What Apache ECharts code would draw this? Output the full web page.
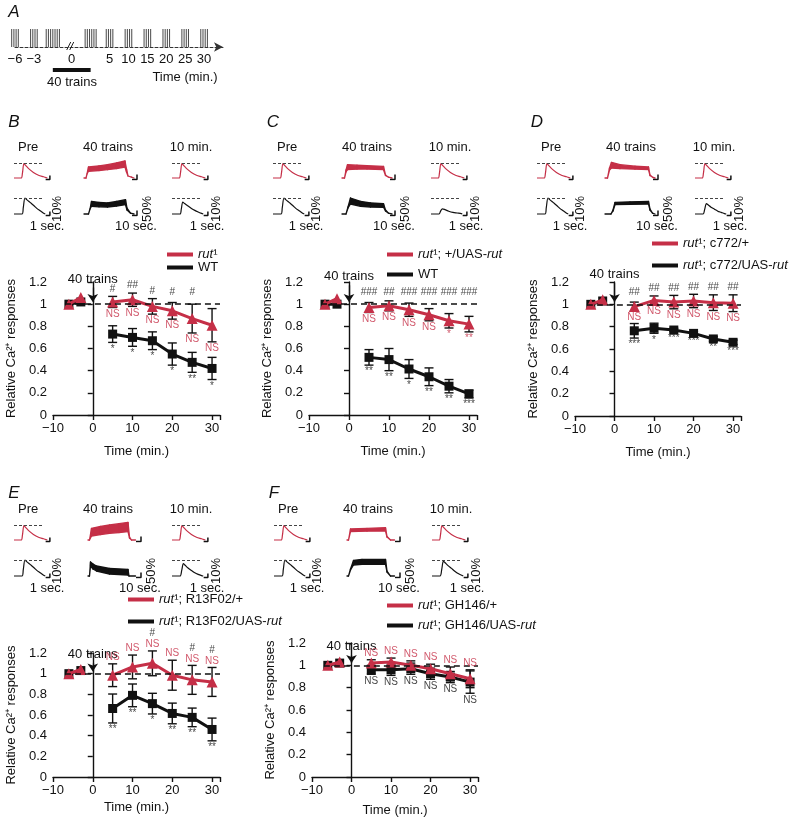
<!DOCTYPE html>
<html><head><meta charset="utf-8">
<script src="https://cdn.jsdelivr.net/npm/echarts@6/dist/echarts.min.js"></script>
<style>html,body{margin:0;padding:0;background:#fff}#c{width:790px;height:818px}</style>
</head><body><div id="c"></div>
<script>
// ================= DATA =================
// Panel A timeline
const timelineLabels = ['−6','−3','','0','','5','10','15','20','25','30',''];
const spikeCounts    = [4, 4, 7, 0, 6, 4, 4, 4, 4, 4, 4, 0];
const spikeKind      = ['test','test','train','break','train','test','test','test','test','test','test','end'];

// Time points (min.)
const times = [-6, -3, 5, 10, 15, 20, 25, 30];

// Panel B
const bRed      = [1.0, 1.06, 1.02, 1.04, 0.98, 0.94, 0.87, 0.81];
const bRedErr   = [0, 0, 0.05, 0.06, 0.07, 0.075, 0.13, 0.15];
const bBlack    = [1.0, 1.02, 0.73, 0.70, 0.67, 0.55, 0.475, 0.42];
const bBlackErr = [0, 0, 0.075, 0.08, 0.08, 0.10, 0.09, 0.10];
const bHash     = ['', '', '#', '##', '#', '#', '#', ''];
const bRedSig   = ['', '', 'NS', 'NS', 'NS', 'NS', 'NS', 'NS'];
const bBlackSig = ['', '', '*', '*', '*', '*', '**', '*'];

// Panel C
const cRed      = [1.0, 1.05, 0.97, 0.985, 0.95, 0.905, 0.85, 0.82];
const cRedErr   = [0, 0, 0.045, 0.045, 0.06, 0.055, 0.065, 0.07];
const cBlack    = [1.0, 1.0, 0.52, 0.50, 0.415, 0.345, 0.26, 0.19];
const cBlackErr = [0, 0, 0.07, 0.10, 0.085, 0.08, 0.06, 0.035];
const cHash     = ['', '', '###', '##', '###', '###', '###', '###'];
const cRedSig   = ['', '', 'NS', 'NS', 'NS', 'NS', '*', '**'];
const cBlackSig = ['', '', '**', '**', '*', '**', '**', '***'];

// Panel D
const dRed      = [1.0, 1.04, 0.98, 1.035, 1.02, 1.03, 1.015, 1.01];
const dRedErr   = [0, 0, 0.04, 0.04, 0.06, 0.06, 0.07, 0.075];
const dBlack    = [1.0, 1.03, 0.763, 0.786, 0.77, 0.74, 0.69, 0.66];
const dBlackErr = [0, 0, 0.065, 0.045, 0.015, 0.015, 0.02, 0.02];
const dHash     = ['', '', '##', '##', '##', '##', '##', '##'];
const dRedSig   = ['', '', 'NS', 'NS', 'NS', 'NS', 'NS', 'NS'];
const dBlackSig = ['', '', '***', '*', '***', '***', '**', '***'];

// Panel E
const eRed      = [1.0, 1.04, 0.985, 1.065, 1.10, 0.985, 0.94, 0.92];
const eRedErr   = [0, 0, 0.11, 0.115, 0.12, 0.145, 0.14, 0.14];
const eBlack    = [1.0, 1.03, 0.663, 0.79, 0.71, 0.615, 0.577, 0.46];
const eBlackErr = [0, 0, 0.14, 0.11, 0.10, 0.10, 0.09, 0.11];
const eHash     = ['', '', '', '', '#', '', '#', '#'];
const eRedSig   = ['', '', 'NS', 'NS', 'NS', 'NS', 'NS', 'NS'];
const eBlackSig = ['', '', '**', '**', '*', '**', '**', '**'];

// Panel F
const fRed      = [1.0, 1.03, 1.02, 1.03, 1.0, 0.97, 0.925, 0.88];
const fRedErr   = [0, 0, 0.03, 0.035, 0.04, 0.04, 0.06, 0.08];
const fBlack    = [1.0, 1.02, 0.96, 0.96, 0.97, 0.925, 0.895, 0.85];
const fBlackErr = [0, 0, 0.04, 0.05, 0.05, 0.05, 0.05, 0.10];
const fHash     = ['', '', '', '', '', '', '', ''];
const fRedSig   = ['', '', 'NS', 'NS', 'NS', 'NS', 'NS', 'NS'];
const fBlackSig = ['', '', 'NS', 'NS', 'NS', 'NS', 'NS', 'NS'];

// Example traces: [time (s), dF/F (%)]
const preRedTrace   = [[0,0],[1.7,0],[2.0,12],[2.35,36],[2.7,32],[3.4,24],[4.6,14],[5.8,7],[7.0,3],[7.6,1],[7.9,0]];
const preBlackTrace = [[0,0],[1.9,0],[2.2,16],[2.6,40],[3.0,36],[3.8,29],[4.6,22],[5.4,14],[6.2,8],[7.0,2],[7.4,0]];
const bTenBlack = [[0,0],[1.9,0],[2.2,12],[2.55,30],[3.0,26],[3.8,20],[4.6,14],[5.4,9],[6.2,5],[7.0,1.5],[7.4,0]];
const cTenBlack = [[0,0],[1.9,0],[2.3,8],[2.7,13],[3.3,11],[4.2,7],[5.2,4],[6.2,2.5],[7.2,1],[7.4,0]];
const dTenBlack = [[0,0],[1.9,0],[2.3,12],[2.7,26],[3.1,23],[3.8,17],[4.6,12],[5.4,7],[6.2,4],[7.0,1],[7.4,0]];
const eTenBlack = [[0,0],[1.9,0],[2.3,14],[2.7,31],[3.1,27],[3.8,20],[4.6,14],[5.4,8],[6.2,4],[7.0,1],[7.4,0]];
const fTenBlack = [[0,0],[1.9,0],[2.3,16],[2.7,37],[3.1,33],[3.8,26],[4.6,19],[5.4,12],[6.2,6],[7.0,2],[7.4,0]];

// 40-train traces: [time (s), lower edge (%), upper edge (%)]
const bRed40   = [[0,0,0],[4,0,0],[6,40,40],[9,67,110],[30,75,122],[47,83,133],[65,95,150],[82,108,170],[85,60,90],[88,20,20],[95,8,8],[100,0,0]];
const bBlack40 = [[0,0,0],[9,0,0],[12,50,50],[15,77,127],[30,72,115],[47,70,110],[65,80,125],[83,93,143],[86,40,60],[93,8,8],[100,0,0]];
const cRed40   = [[0,0,0],[5,0,0],[8,60,80],[11,83,133],[30,88,128],[50,90,123],[83,83,117],[87,25,30],[93,8,8],[100,0,0]];
const cBlack40 = [[0,0,0],[8,0,0],[12,60,70],[17,100,160],[37,77,127],[57,70,110],[83,67,103],[87,30,40],[93,8,8],[100,0,0]];
const dRed40   = [[0,0,0],[5,0,0],[9,80,100],[13,100,157],[30,93,133],[60,88,118],[87,83,110],[90,25,30],[96,5,5],[100,0,0]];
const dBlack40 = [[0,0,0],[12,0,0],[16,30,40],[20,93,117],[50,97,122],[87,100,127],[90,40,50],[95,8,8],[100,0,0]];
const eRed40   = [[0,0,0],[3,0,0],[7,40,117],[25,55,135],[43,67,150],[62,75,163],[80,83,177],[83,20,30],[87,0,0],[95,0,0]];
const eBlack40 = [[0,0,0],[3,0,0],[5,100,140],[10,70,120],[17,50,100],[43,20,75],[80,10,67],[82,0,0],[95,0,0]];
const fRed40   = [[0,0,0],[3,0,0],[7,83,110],[40,88,117],[77,90,123],[80,30,35],[87,0,0],[95,0,0]];
const fBlack40 = [[0,0,0],[3,0,0],[7,60,70],[13,110,155],[30,117,167],[77,117,167],[80,40,50],[87,0,0],[95,0,0]];

// Scale bars: 1 sec / 10 %  and  10 sec / 50 %
const shortBar = [[7.5,-4],[8.5,-4],[8.5,6]];
const longBar  = [[96,-15],[106,-15],[106,35]];

// ================= STYLE / LAYOUT =================
const RED = '#c52f47', BLK = '#111111';
const FONT = '"Liberation Sans", Arial, Helvetica, sans-serif';

const option = {animation:false, backgroundColor:'#fff', textStyle:{fontFamily:FONT},
  grid:[], xAxis:[], yAxis:[], series:[], legend:[], graphic:[]};

function addGrid(g, xa, ya){
  const i = option.grid.length;
  option.grid.push(Object.assign({containLabel:false}, g));
  xa.gridIndex = i; ya.gridIndex = i;
  option.xAxis.push(xa); option.yAxis.push(ya);
  return i;
}
function txt(x, y, s, o){
  o = o || {};
  const size = o.size || 13;
  option.graphic.push({type:'text', x:x, y:y, rotation:o.rot||0, silent:true, z:10,
    style:{text:s, fill:o.color||BLK, font:(o.italic?'italic ':'')+size+'px '+FONT,
      fontSize:size, fontFamily:FONT, fontStyle:o.italic?'italic':'normal',
      textAlign:o.align||'center', textVerticalAlign:'middle', align:o.align||'center', verticalAlign:'middle'}});
}

// ---------- Panel A ----------
txt(14, 12, 'A', {size:17, italic:true});
(function(){
  const gi = addGrid({left:15, top:29, width:208, height:18},
    {type:'category', data:timelineLabels, boundaryGap:false,
      axisLine:{onZero:false, symbol:['none','arrow'], symbolSize:[7,9], lineStyle:{color:'#333', width:1, type:[3,2]}},
      axisTick:{show:false}, splitLine:{show:false},
      axisLabel:{interval:0, fontSize:13, color:BLK, margin:6, fontFamily:FONT}},
    {type:'value', min:0, max:1, show:false, splitLine:{show:false}});
  option.series.push({type:'custom', xAxisIndex:gi, yAxisIndex:gi, silent:true, clip:false,
    data: spikeCounts.map((n,i)=>[i,n]),
    renderItem:function(params, api){
      const i = api.value(0), n = api.value(1);
      const b = api.coord([i,0]), t = api.coord([i,1]);
      const ch = [];
      for (let k=0;k<n;k++){
        const x = b[0] + (k-(n-1)/2)*2.2;
        ch.push({type:'line', shape:{x1:x,y1:b[1],x2:x,y2:t[1]}, style:{stroke:'#333', lineWidth:0.9}});
      }
      return {type:'group', children:ch};
    }});
  const bi = spikeKind.indexOf('break');
  option.series.push({type:'custom', xAxisIndex:gi, yAxisIndex:gi, silent:true, clip:false,
    data:[[bi,0]],
    renderItem:function(params, api){
      const p = api.coord([api.value(0),0]);
      return {type:'group', children:[
        {type:'line', shape:{x1:p[0]-5,y1:p[1]+3,x2:p[0]-1,y2:p[1]-5}, style:{stroke:'#222', lineWidth:1}},
        {type:'line', shape:{x1:p[0]-2,y1:p[1]+3,x2:p[0]+2,y2:p[1]-5}, style:{stroke:'#222', lineWidth:1}}]};
    }});
  const tr = spikeKind.map((k,i)=>k==='train'?i:-1).filter(i=>i>=0);
  option.series.push({type:'line', xAxisIndex:gi, yAxisIndex:gi, silent:true, showSymbol:false, clip:false,
    data:[[tr[0],-1.28],[tr[tr.length-1],-1.28]], lineStyle:{color:BLK, width:4}, itemStyle:{color:BLK}});
  txt(72, 82, '40 trains');
  txt(185, 77, 'Time (min.)');
})();

// ---------- helpers for panels ----------
function legendText(n){ return n.replace(/rut1/g,'{i|rut}¹').replace(/UAS-rut/g,'UAS-{i|rut}'); }
function addLegend(name, x, y){
  option.legend.push({data:[name], left:x, top:y-8, orient:'vertical', icon:'rect', itemWidth:26, itemHeight:4,
    itemGap:0, selectedMode:false, padding:0,
    formatter:legendText,
    textStyle:{fontSize:13, color:BLK, fontFamily:FONT, rich:{i:{fontStyle:'italic', fontSize:13, color:BLK, fontFamily:FONT}}}});
}
function lineTrace(gi, data, color, w){
  return {type:'line', xAxisIndex:gi, yAxisIndex:gi, data:data, showSymbol:false, smooth:0.3, silent:true,
    lineStyle:{color:color, width:w||1.2}, itemStyle:{color:color}, z:3};
}
function dashedRef(gi, level){
  return {type:'line', xAxisIndex:gi, yAxisIndex:gi, data:[], silent:true,
    markLine:{silent:true, symbol:['none','none'], label:{show:false}, animation:false,
      lineStyle:{type:[3,2], color:'#444', width:1},
      data:[[{coord:[0,level]},{coord:[6.8,level]}]]}};
}
function bandTrace(gi, data, color){
  return {type:'custom', xAxisIndex:gi, yAxisIndex:gi, silent:true, clip:false, z:3,
    data:data, encode:{x:0, y:[1,2]},
    renderItem:function(params, api){
      const i = params.dataIndex;
      if (i >= data.length-1) return {type:'group', children:[]};
      const a = data[i], b = data[i+1];
      const pts = [api.coord([a[0],a[1]]), api.coord([b[0],b[1]]), api.coord([b[0],b[2]]), api.coord([a[0],a[2]])];
      return {type:'polygon', shape:{points:pts}, style:{fill:color, stroke:color, lineWidth:1.3, lineJoin:'round'}};
    }};
}
function shortGrid(left, base){
  return addGrid({left:left, top:base-17.6, width:38, height:20},
    {type:'value', min:0, max:9, show:false, splitLine:{show:false}},
    {type:'value', min:-6, max:44, show:false, splitLine:{show:false}});
}
function longGrid(left, base){
  return addGrid({left:left, top:base-20, width:55, height:22},
    {type:'value', min:0, max:110, show:false, splitLine:{show:false}},
    {type:'value', min:-20, max:200, show:false, splitLine:{show:false}});
}
const peak = arr => Math.max.apply(null, arr.map(p=>p[1]));

function buildTraces(P){
  const ox = P.ox, oy = P.oy;
  const rb = oy + 88, bb = oy + 124;
  txt(ox+14, P.letterY, P.key, {size:17, italic:true});
  txt(ox+18, oy+57, 'Pre', {align:'left'});
  txt(ox+108, oy+57, '40 trains');
  txt(ox+191, oy+57, '10 min.');
  // Pre
  let g = shortGrid(ox+14, rb);
  option.series.push(dashedRef(g, peak(preRedTrace)), lineTrace(g, preRedTrace, RED), lineTrace(g, shortBar, BLK, 1.5));
  g = shortGrid(ox+14, bb);
  option.series.push(dashedRef(g, peak(preBlackTrace)), lineTrace(g, preBlackTrace, BLK), lineTrace(g, shortBar, BLK, 1.5));
  // 40 trains
  g = longGrid(ox+P.t40x, rb);
  option.series.push(bandTrace(g, P.red40, RED), lineTrace(g, longBar, BLK, 1.5));
  g = longGrid(ox+P.t40x, bb);
  option.series.push(bandTrace(g, P.blk40, BLK), lineTrace(g, longBar, BLK, 1.5));
  // 10 min
  g = shortGrid(ox+172, rb);
  option.series.push(dashedRef(g, peak(preRedTrace)), lineTrace(g, preRedTrace, RED), lineTrace(g, shortBar, BLK, 1.5));
  g = shortGrid(ox+172, bb);
  option.series.push(dashedRef(g, peak(preBlackTrace)), lineTrace(g, P.tenBlack, BLK), lineTrace(g, shortBar, BLK, 1.5));
  // scale labels
  txt(ox+57, oy+119, '10%', {rot:Math.PI/2});
  txt(ox+P.t40x+63, oy+119, '50%', {rot:Math.PI/2});
  txt(ox+216, oy+119, '10%', {rot:Math.PI/2});
  txt(ox+47, oy+136, '1 sec.');
  txt(ox+P.t40x+52, oy+136, '10 sec.');
  txt(ox+207, oy+136, '1 sec.');
}

function errData(vals, errs){
  const out = [];
  times.forEach((t,i)=>{ if (errs[i] > 0) out.push([t, vals[i]-errs[i], vals[i]+errs[i]]); });
  return out;
}
function errSeries(gi, data){
  return {type:'custom', xAxisIndex:gi, yAxisIndex:gi, silent:true, clip:false, z:2, data:data, encode:{x:0, y:[1,2]},
    renderItem:function(params, api){
      const x = api.value(0);
      const lo = api.coord([x, api.value(1)]), hi = api.coord([x, api.value(2)]);
      const w = 4.5, st = {stroke:BLK, lineWidth:1.4};
      return {type:'group', children:[
        {type:'line', shape:{x1:lo[0],y1:lo[1],x2:hi[0],y2:hi[1]}, style:st},
        {type:'line', shape:{x1:hi[0]-w,y1:hi[1],x2:hi[0]+w,y2:hi[1]}, style:st},
        {type:'line', shape:{x1:lo[0]-w,y1:lo[1],x2:lo[0]+w,y2:lo[1]}, style:st}]};
    }};
}
function annSeries(gi, items, position, distance, color){
  return {type:'scatter', xAxisIndex:gi, yAxisIndex:gi, silent:true, clip:false, z:6,
    symbolSize:1, itemStyle:{color:'rgba(0,0,0,0)'}, data:items,
    label:{show:true, position:position, distance:distance, formatter:p=>p.value[2],
      color:color, fontSize:10, fontFamily:FONT}};
}
function markerSeries(gi, name, vals, idx, color, symbol, size, extra){
  return Object.assign({type:'line', name:name, xAxisIndex:gi, yAxisIndex:gi, silent:true,
    data: idx.map(i=>[times[i], vals[i]]), symbol:symbol, symbolSize:size, showSymbol:true,
    lineStyle:{color:color, width:3}, itemStyle:{color:color}, z: color===RED?4:3}, extra||{});
}

function buildChart(P){
  const gi = addGrid(P.grid,
    {type:'value', min:-10, max:32, interval:10, splitLine:{show:false},
      axisLine:{onZero:false, lineStyle:{color:BLK, width:1.4}}, axisTick:{length:5, lineStyle:{color:BLK, width:1.4}},
      axisLabel:{fontSize:13, color:BLK, margin:7, fontFamily:FONT,
        formatter:v=> (v%10!==0)?'':(v<0?'−'+(-v):String(v))},
      name:'Time (min.)', nameLocation:'middle', nameGap:P.nameGap,
      nameTextStyle:{fontSize:13, color:BLK, fontFamily:FONT}},
    {type:'value', min:0, max:1.2, interval:0.2, splitLine:{show:false},
      axisLine:{show:true, lineStyle:{color:BLK, width:1.4}}, axisTick:{show:true, length:5, lineStyle:{color:BLK, width:1.4}},
      axisLabel:{fontSize:13, color:BLK, margin:6, fontFamily:FONT, formatter:v=>String(+v.toFixed(1))},
      name:'Relative Ca²⁺ responses', nameLocation:'middle', nameGap:35, nameRotate:90,
      nameTextStyle:{fontSize:13, color:BLK, fontFamily:FONT}});
  const pre = [0,1], post = [2,3,4,5,6,7];
  option.series.push(errSeries(gi, errData(P.blkV, P.blkE)));
  option.series.push(errSeries(gi, errData(P.redV, P.redE)));
  option.series.push(markerSeries(gi, P.black, P.blkV, pre, BLK, 'rect', 9));
  option.series.push(markerSeries(gi, P.black, P.blkV, post, BLK, 'rect', 9, {
    markLine:{silent:true, symbol:['none','arrow'], symbolSize:8, animation:false,
      lineStyle:{type:'solid', color:BLK, width:1.3},
      label:{show:true, position:'start', formatter:'40 trains', color:BLK, fontSize:13, fontFamily:FONT, distance:2},
      data:[[{coord:[0,P.arrowTop]},{coord:[0,1.02]}]]}}));
  option.series.push(markerSeries(gi, P.red, P.redV, pre, RED, 'triangle', 11, {
    markLine:{silent:true, symbol:['none','none'], animation:false, label:{show:false},
      lineStyle:{type:[6,4], color:BLK, width:1.5},
      data:[[{coord:[-7,1]},{coord:[32,1]}]]}}));
  option.series.push(markerSeries(gi, P.red, P.redV, post, RED, 'triangle', 11));
  // annotations
  const hashItems = [], redItems = [], blkItems = [];
  times.forEach((t,i)=>{
    const rTop = P.redV[i]+P.redE[i], rBot = P.redV[i]-P.redE[i], kBot = P.blkV[i]-P.blkE[i];
    if (P.hash[i]) hashItems.push([t, Math.max(rTop, P.hashFloor), P.hash[i]]);
    if (P.redSig[i]) redItems.push([t, P.redSigAbove ? rTop : rBot, P.redSig[i]]);
    if (P.blkSig[i]) blkItems.push([t, kBot, P.blkSig[i]]);
  });
  option.series.push(annSeries(gi, hashItems, 'top', P.redSigAbove?12:2, BLK));
  option.series.push(annSeries(gi, redItems, P.redSigAbove?'top':'bottom', 1, RED));
  option.series.push(annSeries(gi, blkItems, 'bottom', 1, BLK));
  addLegend(P.red, P.legend[0][0], P.legend[0][1]);
  addLegend(P.black, P.legend[1][0], P.legend[1][1]);
}

const panels = [
  {key:'B', red:'rut1', black:'WT', redV:bRed, redE:bRedErr, blkV:bBlack, blkE:bBlackErr,
   hash:bHash, redSig:bRedSig, blkSig:bBlackSig, redSigAbove:false, hashFloor:1.04,
   tenBlack:bTenBlack, red40:bRed40, blk40:bBlack40,
   ox:0, oy:90, letterY:122, t40x:84, grid:{left:53, top:282, width:167, height:133}, nameGap:30, arrowTop:1.15,
   legend:[[167,256],[167,269]]},
  {key:'C', red:'rut1; +/UAS-rut', black:'WT', redV:cRed, redE:cRedErr, blkV:cBlack, blkE:cBlackErr,
   hash:cHash, redSig:cRedSig, blkSig:cBlackSig, redSigAbove:false, hashFloor:1.04,
   tenBlack:cTenBlack, red40:cRed40, blk40:cBlack40,
   ox:259, oy:90, letterY:122, t40x:83, grid:{left:309, top:282, width:168, height:133}, nameGap:30, arrowTop:1.17,
   legend:[[387,256],[387,276]]},
  {key:'D', red:'rut1; c772/+', black:'rut1; c772/UAS-rut', redV:dRed, redE:dRedErr, blkV:dBlack, blkE:dBlackErr,
   hash:dHash, redSig:dRedSig, blkSig:dBlackSig, redSigAbove:false, hashFloor:1.04,
   tenBlack:dTenBlack, red40:dRed40, blk40:dBlack40,
   ox:523, oy:90, letterY:122, t40x:82, grid:{left:575, top:282, width:166, height:134}, nameGap:30, arrowTop:1.19,
   legend:[[652,245],[652,267]]},
  {key:'E', red:'rut1; R13F02/+', black:'rut1; R13F02/UAS-rut', redV:eRed, redE:eRedErr, blkV:eBlack, blkE:eBlackErr,
   hash:eHash, redSig:eRedSig, blkSig:eBlackSig, redSigAbove:true, hashFloor:0,
   tenBlack:eTenBlack, red40:eRed40, blk40:eBlack40,
   ox:0, oy:452, letterY:493, t40x:88, grid:{left:53, top:653, width:167, height:124}, nameGap:24, arrowTop:1.1,
   legend:[[128,601],[128,623]]},
  {key:'F', red:'rut1; GH146/+', black:'rut1; GH146/UAS-rut', redV:fRed, redE:fRedErr, blkV:fBlack, blkE:fBlackErr,
   hash:fHash, redSig:fRedSig, blkSig:fBlackSig, redSigAbove:true, hashFloor:0,
   tenBlack:fTenBlack, red40:fRed40, blk40:fBlack40,
   ox:260, oy:452, letterY:493, t40x:87, grid:{left:312, top:643, width:166, height:134}, nameGap:27, arrowTop:1.09,
   legend:[[387,607],[387,627]]}
];
panels.forEach(P=>{ buildTraces(P); buildChart(P); });

echarts.init(document.getElementById('c'), null, {renderer:'canvas'}).setOption(option);
</script>
</body></html>
